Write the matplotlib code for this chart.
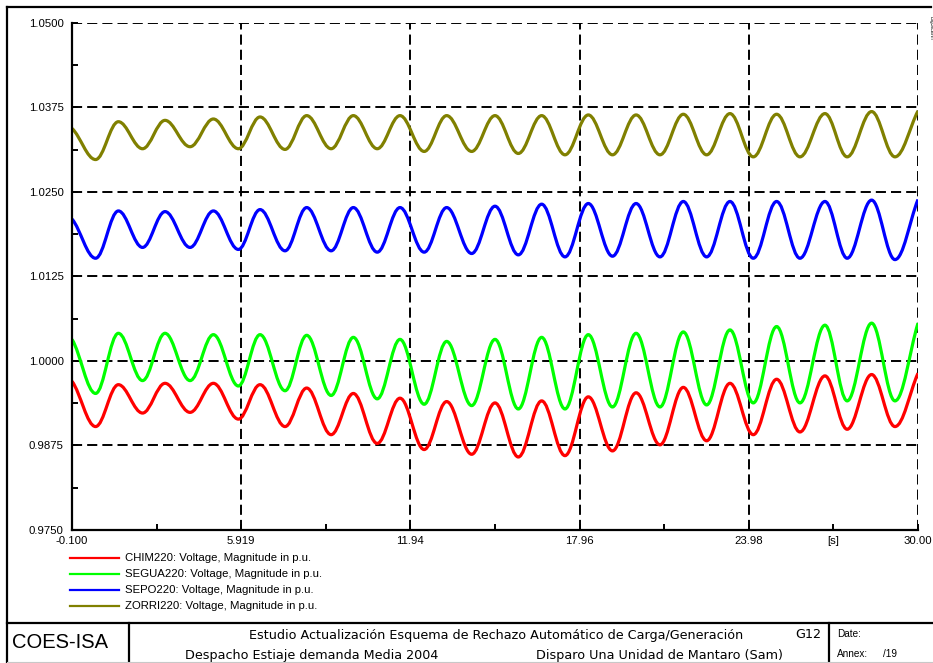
import numpy as np
import matplotlib
matplotlib.use("Agg")
import matplotlib.pyplot as plt
from matplotlib.path import Path
from matplotlib.patches import PathPatch
from matplotlib.lines import Line2D

# ---------------- data (extrema) ----------------
t_ext = [-0.10, 0.74, 1.55, 2.41, 3.21, 4.10, 4.93, 5.82, 6.59, 7.48, 8.25,
         9.12, 9.91, 10.76, 11.57, 12.43, 13.23, 14.12, 14.95, 15.78, 16.61,
         17.44, 18.27, 19.13, 19.97, 20.82, 21.65, 22.48, 23.31, 24.14, 24.97,
         25.80, 26.69, 27.48, 28.35, 29.18, 30.00]

chim220 = [0.9970, 0.9903, 0.9965, 0.9923, 0.9967, 0.9924, 0.9967, 0.9914, 0.9965,
           0.9903, 0.9960, 0.9891, 0.9952, 0.9878, 0.9945, 0.9869, 0.9940, 0.9862,
           0.9938, 0.9858, 0.9941, 0.9860, 0.9947, 0.9867, 0.9953, 0.9876, 0.9961,
           0.9882, 0.9967, 0.9891, 0.9973, 0.9895, 0.9978, 0.9899, 0.9980, 0.9903,
           0.9982]

segua220 = [1.0032, 0.9952, 1.0041, 0.9971, 1.0041, 0.9971, 1.0039, 0.9963, 1.0039,
            0.9956, 1.0038, 0.9949, 1.0035, 0.9944, 1.0032, 0.9936, 1.0029, 0.9934,
            1.0032, 0.9929, 1.0035, 0.9929, 1.0039, 0.9932, 1.0041, 0.9932, 1.0043,
            0.9935, 1.0046, 0.9938, 1.0051, 0.9938, 1.0053, 0.9941, 1.0056, 0.9941,
            1.0056]

sepo220 = [1.0210, 1.0152, 1.0222, 1.0168, 1.0221, 1.0168, 1.0222, 1.0165, 1.0224,
           1.0163, 1.0227, 1.0163, 1.0227, 1.0161, 1.0227, 1.0161, 1.0227, 1.0159,
           1.0229, 1.0157, 1.0232, 1.0154, 1.0233, 1.0155, 1.0233, 1.0154, 1.0236,
           1.0154, 1.0236, 1.0152, 1.0236, 1.0152, 1.0236, 1.0152, 1.0238, 1.0150,
           1.0239]

zorri220 = [1.0344, 1.0298, 1.0354, 1.0314, 1.0356, 1.0317, 1.0358, 1.0314, 1.0361,
            1.0313, 1.0363, 1.0314, 1.0363, 1.0314, 1.0363, 1.0310, 1.0363, 1.0310,
            1.0363, 1.0307, 1.0363, 1.0305, 1.0364, 1.0305, 1.0364, 1.0305, 1.0365,
            1.0305, 1.0366, 1.0302, 1.0365, 1.0302, 1.0366, 1.0302, 1.0369, 1.0302,
            1.0370]

series_names = ["CHIM220: Voltage, Magnitude in p.u.",
                "SEGUA220: Voltage, Magnitude in p.u.",
                "SEPO220: Voltage, Magnitude in p.u.",
                "ZORRI220: Voltage, Magnitude in p.u."]
series_values = [chim220, segua220, sepo220, zorri220]
series_colors = ["#ff0000", "#00ff00", "#0000ff", "#808000"]

x_ticks = [-0.100, 5.919, 11.94, 17.96, 23.98, 30.00]
x_tick_labels = ["-0.100", "5.919", "11.94", "17.96", "23.98", "30.00"]
y_ticks = [0.9750, 0.9875, 1.0000, 1.0125, 1.0250, 1.0375, 1.0500]
y_tick_labels = ["0.9750", "0.9875", "1.0000", "1.0125", "1.0250", "1.0375", "1.0500"]

# ---------------- figure ----------------
W, H = 933, 663
plt.rcParams['font.family'] = ['Liberation Sans', 'DejaVu Sans']
fig = plt.figure(figsize=(W / 100, H / 100), dpi=100)

def fx(x):
    return x / W

def fy(y):
    return 1 - y / H

ax_l, ax_r, ax_t, ax_b = 72, 918, 23, 530
ax = fig.add_axes([fx(ax_l), fy(ax_b), (ax_r - ax_l) / W, (ax_b - ax_t) / H])
ax.set_xlim(x_ticks[0], x_ticks[-1])
ax.set_ylim(y_ticks[0], y_ticks[-1])


def smooth_path(t, v):
    k = 0.3642
    verts = [(t[0], v[0])]
    codes = [Path.MOVETO]
    n = len(t)
    for i in range(n - 1):
        t0, t1 = t[i], t[i + 1]
        y0, y1 = v[i], v[i + 1]
        d = t1 - t0
        if i == 0:
            c1 = (t0 + d * k, y0 + (y1 - y0) * 0.25)
        else:
            c1 = (t0 + d * k, y0)
        if i == n - 2:
            c2 = (t1 - d * k, y1 - (y1 - y0) * 0.35)
        else:
            c2 = (t1 - d * k, y1)
        verts += [c1, c2, (t1, y1)]
        codes += [Path.CURVE4] * 3
    return Path(verts, codes)


# grid
lw_grid = 1.4
ax.set_xticks(x_ticks)
ax.set_yticks(y_ticks)
ax.grid(True, color="black", linewidth=lw_grid,
        linestyle=(0, (5.2, 2.6)), zorder=1)
ax.set_axisbelow(True)

for vals, col in zip(series_values, series_colors):
    p = PathPatch(smooth_path(t_ext, vals), facecolor="none", edgecolor=col,
                  linewidth=2.3, zorder=3, capstyle="butt", joinstyle="round")
    ax.add_patch(p)

# spines
for s in ["top", "right"]:
    ax.spines[s].set_visible(False)
for s in ["left", "bottom"]:
    ax.spines[s].set_linewidth(1.6)
    ax.spines[s].set_color("black")
    ax.spines[s].set_zorder(4)

ax.set_xticklabels(x_tick_labels)
ax.set_yticklabels(y_tick_labels)
ax.set_xticks((np.array(x_ticks[:-1]) + np.array(x_ticks[1:])) / 2, minor=True)
ax.set_yticks((np.array(y_ticks[:-1]) + np.array(y_ticks[1:])) / 2, minor=True)
ax.tick_params(axis="both", which="major", direction="in", length=4, width=1.4,
               labelsize=8.2, colors="black")
ax.tick_params(axis="both", which="minor", direction="in", length=4, width=1.4)
ax.tick_params(axis="x", which="major", pad=4)
ax.tick_params(axis="y", which="major", pad=6)
ax.patch.set_visible(False)

# unit label
fig.text(fx(833), fy(541), "[s]", fontsize=8.2, ha="center", va="center")

# legend (manual)
leg_y = [558, 574, 590, 606]
for name, col, yy in zip(series_names, series_colors, leg_y):
    fig.add_artist(Line2D([fx(70), fx(119)], [fy(yy), fy(yy)], color=col,
                          linewidth=1.6, transform=fig.transFigure))
    fig.text(fx(125), fy(yy), name, fontsize=8.2, ha="left", va="center")

# outer frame and title block
frame_kw = dict(color="black", linewidth=1.6, transform=fig.transFigure)
fig.add_artist(Line2D([fx(7), fx(7)], [fy(7), fy(663)], **frame_kw))
fig.add_artist(Line2D([fx(7), fx(931)], [fy(7), fy(7)], **frame_kw))
fig.add_artist(Line2D([fx(7), fx(933)], [fy(623), fy(623)], **frame_kw))
fig.add_artist(Line2D([fx(129), fx(129)], [fy(623), fy(663)], **frame_kw))
fig.add_artist(Line2D([fx(829), fx(829)], [fy(623), fy(663)], **frame_kw))
fig.add_artist(Line2D([fx(7), fx(933)], [fy(662), fy(662)], color="#c8c8c8",
                      linewidth=0.8, transform=fig.transFigure))

fig.text(fx(12), fy(643), "COES-ISA", fontsize=14.5, ha="left", va="center")
fig.text(fx(496), fy(635), "Estudio Actualización Esquema de Rechazo Automático de Carga/Generación",
         fontsize=9.2, ha="center", va="center", family="DejaVu Sans")
fig.text(fx(821), fy(635), "G12", fontsize=9.2, ha="right", va="center", family="DejaVu Sans")
fig.text(fx(185), fy(655), "Despacho Estiaje demanda Media 2004",
         fontsize=9.2, ha="left", va="center", family="DejaVu Sans")
fig.text(fx(783), fy(655), "Disparo Una Unidad de Mantaro (Sam)",
         fontsize=9.2, ha="right", va="center", family="DejaVu Sans")
fig.text(fx(837), fy(634), "Date:", fontsize=7.2, ha="left", va="center")
fig.text(fx(837), fy(654), "Annex:", fontsize=7.2, ha="left", va="center")
fig.text(fx(883), fy(654), "/19", fontsize=7.2, ha="left", va="center")
fig.text(fx(931), fy(28), "DIgSILENT", fontsize=3.5, ha="center", va="center",
         rotation=270)

fig.savefig("out.png", dpi=100)
